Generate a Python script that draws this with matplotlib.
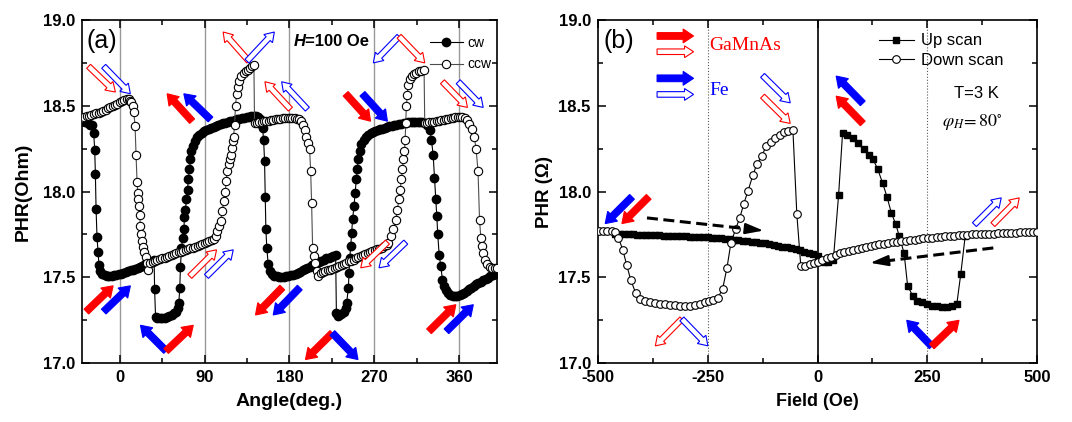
import matplotlib
matplotlib.use("Agg")
import matplotlib.pyplot as plt
import numpy as np
from matplotlib.patches import FancyArrowPatch
from matplotlib.ticker import MultipleLocator

plt.rcParams['font.family'] = ['Liberation Sans', 'DejaVu Sans']
plt.rcParams['mathtext.fontset'] = 'stix'

RED = '#ff0000'
BLUE = '#0000ff'

# ---- panel (a): PHR vs angle, H = 100 Oe ----
cw = np.array([
    (-39, 18.41), (-36.5, 18.405), (-34, 18.40), (-31.5, 18.39), (-29.4, 18.385), (-27.6, 18.34),
    (-26.5, 18.24), (-25.8, 18.10), (-25.1, 17.90), (-24.1, 17.735), (-23, 17.65), (-22, 17.57),
    (-20.5, 17.535), (-18.5, 17.52), (-16, 17.515), (-13.5, 17.51), (-11, 17.51), (-8.5, 17.51),
    (-6, 17.512), (-3.5, 17.515), (-1, 17.518), (1.5, 17.52), (4, 17.525), (6.5, 17.53), (9, 17.535),
    (11.5, 17.54), (14, 17.545), (16.5, 17.55), (19, 17.555), (21.5, 17.56), (24, 17.567),
    (26.5, 17.575), (29, 17.58), (31.5, 17.585), (34, 17.59), (36.5, 17.60), (37, 17.43), (38, 17.27),
    (40, 17.265), (42.5, 17.26), (45, 17.262), (47.5, 17.265), (50, 17.27), (52.5, 17.275),
    (55, 17.28), (57.5, 17.29), (60, 17.30), (61.5, 17.32), (62.7, 17.35), (63.7, 17.44),
    (64.4, 17.56), (65.5, 17.67), (66.9, 17.73), (68, 17.78), (68.7, 17.85), (69.7, 17.895),
    (70.8, 17.955), (71.9, 18.01), (72.9, 18.07), (74, 18.13), (75, 18.19), (76.1, 18.235),
    (77.5, 18.265), (79.6, 18.295), (82, 18.315), (84.5, 18.33), (87, 18.342), (89.5, 18.35),
    (92, 18.357), (94.5, 18.365), (97, 18.37), (99.5, 18.377), (102, 18.383), (104.5, 18.388),
    (107, 18.393), (109.5, 18.398), (112, 18.402), (114.5, 18.406), (117, 18.41), (119.5, 18.414),
    (122, 18.418), (124.5, 18.42), (127, 18.425), (129.5, 18.428), (132, 18.43), (134.5, 18.434),
    (137, 18.436), (139.5, 18.438), (142, 18.44), (144.5, 18.438), (147, 18.435), (149, 18.42),
    (150.5, 18.39), (151.5, 18.37), (152.6, 18.30), (153.6, 18.18), (154.3, 17.97), (155, 17.78),
    (156, 17.67), (157.5, 17.575), (159.3, 17.535), (161.5, 17.52), (164, 17.51), (166.5, 17.505),
    (169, 17.50), (171.5, 17.50), (174, 17.502), (176.5, 17.505), (179, 17.508), (181.5, 17.512),
    (184, 17.515), (186.5, 17.52), (189, 17.527), (191.5, 17.533), (194, 17.54), (196.5, 17.547),
    (199, 17.555), (201.5, 17.562), (204, 17.57), (206.5, 17.577), (209, 17.585), (211.5, 17.59),
    (214, 17.597), (216.5, 17.603), (219, 17.61), (221.5, 17.615), (224, 17.62), (226.5, 17.625),
    (229, 17.63), (229.8, 17.29), (231, 17.275), (233, 17.277), (235, 17.283), (237.5, 17.30),
    (239.5, 17.32), (240.7, 17.35), (242.5, 17.44), (243.2, 17.525), (243.9, 17.61), (245, 17.68),
    (246, 17.76), (247, 17.84), (248.5, 17.915), (249.6, 17.99), (251, 18.07), (252, 18.13),
    (253, 18.19), (254.5, 18.235), (256.3, 18.275), (259, 18.30), (261, 18.32), (263.5, 18.332),
    (266, 18.34), (268.5, 18.347), (271, 18.353), (273.5, 18.358), (276, 18.362), (278.5, 18.367),
    (281, 18.372), (283.5, 18.376), (286, 18.38), (288.5, 18.383), (291, 18.386), (293.5, 18.39),
    (296, 18.393), (298.5, 18.396), (301, 18.40), (303.5, 18.401), (306, 18.403), (308.5, 18.404),
    (311, 18.405), (313.5, 18.405), (316, 18.406), (318.5, 18.405), (321, 18.405), (323.5, 18.40),
    (326.4, 18.39), (328.8, 18.36), (330.6, 18.30), (332.4, 18.215), (333.8, 18.08), (335.2, 17.955),
    (336.3, 17.855), (337.3, 17.75), (338.8, 17.63), (340.5, 17.565), (342.3, 17.485), (344, 17.45),
    (346, 17.425), (348, 17.41), (350.5, 17.398), (353, 17.39), (355.5, 17.388), (358, 17.39),
    (360.5, 17.395), (363, 17.40), (365.5, 17.41), (368, 17.42), (370.5, 17.43), (373, 17.44),
    (375.5, 17.45), (378, 17.458), (380.5, 17.466), (383, 17.474), (385.5, 17.482), (388, 17.49),
    (390.5, 17.497), (393, 17.505), (395.5, 17.513), (398, 17.52), (400, 17.525),
])
ccw = np.array([
    (-40, 18.43), (-37.5, 18.435), (-35, 18.438), (-32.5, 18.442), (-30, 18.447), (-27.5, 18.452),
    (-25, 18.456), (-22.5, 18.46), (-20, 18.466), (-17.5, 18.472), (-15, 18.478), (-12.5, 18.484),
    (-10, 18.49), (-7.5, 18.497), (-5, 18.505), (-2.5, 18.513), (0, 18.52), (2.5, 18.527),
    (5, 18.533), (7.5, 18.538), (9.6, 18.54), (11, 18.53), (12, 18.52), (13.8, 18.50), (14.9, 18.465),
    (16.3, 18.38), (17.3, 18.215), (18.4, 18.055), (19.1, 17.99), (19.8, 17.955), (20.5, 17.915),
    (21.2, 17.865), (21.9, 17.80), (23, 17.75), (24, 17.71), (25.1, 17.675), (26.2, 17.65),
    (27.6, 17.62), (29, 17.585), (30.4, 17.545), (32.6, 17.585), (35, 17.59), (37.5, 17.595),
    (40, 17.60), (42.5, 17.605), (45, 17.61), (47.5, 17.615), (50, 17.62), (52.5, 17.625),
    (55, 17.63), (57.5, 17.635), (60, 17.64), (62.5, 17.645), (65, 17.65), (67.5, 17.655),
    (70, 17.66), (72.5, 17.665), (75, 17.668), (77.5, 17.673), (80, 17.678), (82.5, 17.683),
    (85, 17.688), (87.5, 17.694), (90, 17.70), (92.5, 17.705), (95, 17.71), (97.5, 17.717),
    (100, 17.725), (102, 17.74), (103.4, 17.77), (105, 17.80), (107, 17.83), (108.7, 17.885),
    (110.4, 17.945), (111.9, 18.0), (113, 18.06), (114, 18.12), (115.4, 18.16), (116.5, 18.19),
    (117.5, 18.215), (118.6, 18.255), (120, 18.295), (120.7, 18.32), (121.8, 18.385), (122.8, 18.50),
    (123.9, 18.57), (125, 18.61), (126.4, 18.645), (128.8, 18.675), (131.7, 18.69), (134, 18.70),
    (136, 18.71), (138.5, 18.72), (140.5, 18.73), (142.3, 18.74), (143, 18.40), (145.5, 18.402),
    (148, 18.404), (150.5, 18.407), (153, 18.41), (155.5, 18.412), (158, 18.414), (160.5, 18.416),
    (163, 18.418), (165.5, 18.42), (168, 18.423), (170.5, 18.425), (173, 18.427), (175.5, 18.428),
    (178, 18.43), (180.5, 18.43), (183, 18.43), (185.5, 18.428), (188, 18.425), (190.5, 18.42),
    (192.5, 18.41), (194.3, 18.39), (196, 18.36), (198, 18.32), (200, 18.285), (201.4, 18.245),
    (202.5, 18.12), (203.5, 17.935), (204.6, 17.67), (206, 17.625), (207.4, 17.585), (208.8, 17.535),
    (210.6, 17.505), (213, 17.525), (215.5, 17.53), (218, 17.535), (220.5, 17.54), (223, 17.545),
    (225.5, 17.55), (228, 17.556), (230.5, 17.562), (233, 17.568), (235.5, 17.574), (238, 17.58),
    (240.5, 17.586), (243, 17.592), (245.5, 17.597), (248, 17.603), (250.5, 17.61), (253, 17.616),
    (255.5, 17.622), (258, 17.628), (260.5, 17.635), (263, 17.641), (265.5, 17.647), (268, 17.652),
    (270.5, 17.657), (273, 17.662), (275.5, 17.667), (278, 17.672), (280.5, 17.68), (283, 17.69),
    (285, 17.70), (287.4, 17.74), (290, 17.78), (292.7, 17.835), (294.5, 17.895), (296, 17.955),
    (297.3, 18.01), (298.8, 18.07), (299.8, 18.13), (300.9, 18.19), (302, 18.235), (302.7, 18.30),
    (303.4, 18.40), (304, 18.50), (305, 18.565), (305.8, 18.62), (308, 18.655), (310, 18.672),
    (312, 18.685), (314.5, 18.693), (317.5, 18.70), (320, 18.705), (322.8, 18.71), (323.5, 18.40),
    (326, 18.402), (328.5, 18.404), (331, 18.406), (333.5, 18.408), (336, 18.41), (338.5, 18.413),
    (341, 18.416), (343.5, 18.419), (346, 18.422), (348.5, 18.425), (351, 18.428), (353.5, 18.43),
    (356, 18.432), (358.5, 18.434), (361, 18.435), (363.5, 18.433), (366, 18.428), (368, 18.415),
    (370.6, 18.395), (373.5, 18.365), (376, 18.32), (378, 18.245), (380, 18.12), (381.6, 17.835),
    (383, 17.73), (384.4, 17.68), (385.8, 17.64), (387.6, 17.60), (390, 17.575), (392.5, 17.56),
    (395, 17.555), (397.5, 17.553), (400, 17.555),
])
cw_angle, cw_phr = cw[:, 0], cw[:, 1]
ccw_angle, ccw_phr = ccw[:, 0], ccw[:, 1]

# ---- panel (b): PHR vs field, phi_H = 80 deg ----
up = np.array([
    (-460, 17.755), (-450, 17.755), (-440, 17.753), (-430, 17.752), (-420, 17.75), (-410, 17.749),
    (-400, 17.748), (-390, 17.747), (-380, 17.746), (-370, 17.745), (-360, 17.744), (-350, 17.743),
    (-340, 17.742), (-330, 17.741), (-320, 17.74), (-310, 17.739), (-300, 17.738), (-290, 17.737),
    (-280, 17.736), (-270, 17.735), (-260, 17.734), (-250, 17.733), (-240, 17.731), (-230, 17.729),
    (-220, 17.727), (-210, 17.724), (-200, 17.721), (-190, 17.718), (-180, 17.715), (-170, 17.712),
    (-160, 17.709), (-150, 17.706), (-140, 17.703), (-130, 17.70), (-120, 17.697), (-110, 17.693),
    (-100, 17.689), (-90, 17.684), (-80, 17.679), (-70, 17.674), (-60, 17.668), (-50, 17.662),
    (-40, 17.656), (-30, 17.649), (-20, 17.642), (-10, 17.634), (0, 17.625), (14, 17.59),
    (25, 17.59), (36, 17.60), (48, 17.98), (57, 18.34), (68, 18.33), (80, 18.31), (93, 18.28),
    (106, 18.25), (118, 18.21), (126, 18.19), (137, 18.13), (148, 18.05), (158, 17.97),
    (168, 17.875), (178, 17.81), (186, 17.74), (197, 17.64), (205, 17.45), (217, 17.39),
    (227, 17.36), (237, 17.355), (249, 17.345), (260, 17.335), (271, 17.33), (283, 17.325),
    (294, 17.325), (305, 17.33), (317, 17.345), (326, 17.52), (336, 17.74),
])
down = np.array([
    (-498, 17.77), (-488, 17.77), (-478, 17.77), (-468, 17.77), (-460, 17.765), (-453, 17.73),
    (-443, 17.66), (-434, 17.57), (-425, 17.485), (-414, 17.41), (-403, 17.375), (-392, 17.36),
    (-380, 17.355), (-369, 17.35), (-358, 17.345), (-346, 17.345), (-335, 17.34), (-324, 17.34),
    (-312, 17.335), (-301, 17.335), (-290, 17.335), (-278, 17.34), (-267, 17.345), (-256, 17.355),
    (-247, 17.36), (-238, 17.37), (-227, 17.38), (-216, 17.43), (-206, 17.555), (-197, 17.70),
    (-186.5, 17.78), (-177, 17.845), (-167.5, 17.93), (-158, 18.005), (-147, 18.095), (-138, 18.16),
    (-127, 18.205), (-117, 18.265), (-106, 18.29), (-96, 18.31), (-86, 18.33), (-77, 18.345),
    (-68, 18.355), (-56, 18.36), (-47, 17.866), (-38, 17.565), (-28, 17.565), (-18, 17.575),
    (-9, 17.585), (0, 17.59), (10, 17.60), (21, 17.61), (31, 17.62), (41, 17.63), (51, 17.64),
    (61, 17.648), (71, 17.655), (81, 17.66), (91, 17.666), (101, 17.672), (111, 17.677),
    (121, 17.682), (131, 17.687), (141, 17.692), (151, 17.696), (161, 17.70), (171, 17.704),
    (181, 17.707), (191, 17.71), (201, 17.713), (211, 17.716), (221, 17.72), (231, 17.723),
    (241, 17.726), (251, 17.729), (261, 17.731), (271, 17.734), (281, 17.736), (291, 17.738),
    (301, 17.74), (311, 17.742), (321, 17.744), (331, 17.746), (341, 17.748), (351, 17.75),
    (361, 17.751), (371, 17.752), (381, 17.753), (391, 17.754), (401, 17.755), (411, 17.756),
    (421, 17.757), (431, 17.758), (441, 17.759), (451, 17.76), (461, 17.761), (471, 17.762),
    (481, 17.763), (491, 17.764), (500, 17.765),
])
up_field, up_phr = up[:, 0], up[:, 1]
down_field, down_phr = down[:, 0], down[:, 1]

angle_ticks = [0, 90, 180, 270, 360]
field_ticks = [-500, -250, 0, 250, 500]
phr_ticks = [17.0, 17.5, 18.0, 18.5, 19.0]

# magnetisation sketch arrows: (tail, head, colour, filled)
arrows_a = [
    ((-33, 18.73), (-4.6, 18.58), RED, False), ((-17, 18.73), (11.3, 18.57), BLUE, False),
    ((76.8, 18.41), (50.3, 18.57), RED, True), ((96.3, 18.42), (68, 18.57), BLUE, True),
    ((137, 18.76), (109.7, 18.93), RED, False), ((135, 18.76), (164, 18.93), BLUE, False),
    ((181, 18.48), (154, 18.64), RED, False), ((199, 18.48), (171.7, 18.64), BLUE, False),
    ((239.6, 18.57), (266, 18.41), RED, True), ((257.4, 18.57), (283.9, 18.41), BLUE, True),
    ((296.3, 18.905), (269, 18.75), BLUE, False), ((296.3, 18.905), (323.5, 18.75), RED, False),
    ((342.3, 18.64), (368.8, 18.49), RED, False), ((359, 18.64), (385.5, 18.49), BLUE, False),
    ((-35.4, 17.30), (-7, 17.45), RED, True), ((-17, 17.30), (11.3, 17.45), BLUE, True),
    ((74.3, 17.505), (102.7, 17.66), RED, False), ((92, 17.505), (120.4, 17.66), BLUE, False),
    ((49.2, 17.07), (22, 17.22), BLUE, True), ((49.2, 17.07), (78, 17.22), RED, True),
    ((172.4, 17.44), (144, 17.28), RED, True), ((191, 17.44), (162.8, 17.28), BLUE, True),
    ((225.5, 17.175), (197, 17.02), RED, True), ((225.5, 17.175), (252.7, 17.02), BLUE, True),
    ((284, 17.705), (255.6, 17.555), RED, False), ((303.4, 17.705), (275, 17.555), BLUE, False),
    ((328, 17.185), (356.5, 17.34), RED, True), ((346.5, 17.185), (375, 17.34), BLUE, True),
]
arrows_b = [
    ((-365, 18.907), (-282, 18.907), RED, True), ((-365, 18.815), (-282, 18.815), RED, False),
    ((-365, 18.66), (-282, 18.66), BLUE, True), ((-365, 18.566), (-282, 18.566), BLUE, False),
    ((-125, 18.677), (-62, 18.517), BLUE, False), ((-125, 18.556), (-62, 18.397), RED, False),
    ((103, 18.514), (42.5, 18.673), BLUE, True), ((103, 18.397), (42.5, 18.556), RED, True),
    ((-422, 17.969), (-483, 17.813), BLUE, True), ((-384, 17.969), (-445, 17.813), RED, True),
    ((357, 17.807), (418, 17.963), BLUE, False), ((399, 17.807), (459, 17.963), RED, False),
    ((-308.6, 17.257), (-369, 17.10), RED, False), ((-308.6, 17.257), (-249.4, 17.10), BLUE, False),
    ((260, 17.097), (203, 17.249), BLUE, True), ((260, 17.097), (322, 17.249), RED, True),
]


def block_arrow(ax, tail, head, color, filled):
    if filled:
        style = "simple,tail_width=4.8,head_width=10,head_length=7.5"
    else:
        style = "simple,tail_width=4.0,head_width=8.5,head_length=6.5"
    arr = FancyArrowPatch(tail, head, arrowstyle=style, mutation_scale=1,
                          shrinkA=0, shrinkB=0, lw=0.8, joinstyle='miter',
                          facecolor=color if filled else 'white', edgecolor=color, zorder=6)
    ax.add_patch(arr)


def dashed_arrow(ax, tail, head):
    tail = np.array(tail)
    head = np.array(head)
    mid = head - 0.13 * (head - tail)
    ax.plot([tail[0], mid[0]], [tail[1], mid[1]], color='black', lw=2.2,
            dashes=(3.6, 1.8), solid_capstyle='butt', zorder=6)
    ax.annotate('', xy=head, xytext=mid,
                arrowprops=dict(arrowstyle='-|>,head_length=1.1,head_width=0.33',
                                lw=1.5, color='black', mutation_scale=10,
                                shrinkA=0, shrinkB=0), zorder=6)


def style_axes(ax, xticks, xfmt):
    ax.set_ylim(17.0, 19.0)
    ax.set_xticks(xticks, [xfmt.format(v) for v in xticks], fontweight='bold')
    ax.set_yticks(phr_ticks, [f'{v:.1f}' for v in phr_ticks], fontweight='bold')
    ax.yaxis.set_minor_locator(MultipleLocator(0.25))
    ax.tick_params(which='both', direction='in', top=True, right=True, width=1.1, labelsize=12)
    ax.tick_params(which='major', length=6, pad=5)
    ax.tick_params(which='minor', length=3.5)
    for sp in ax.spines.values():
        sp.set_linewidth(1.2)


fig = plt.figure(figsize=(10.72, 4.22), dpi=100)

# panel (a)
ax1 = fig.add_axes([0.0765, 0.1398, 0.387, 0.8128])
for x in angle_ticks:
    ax1.axvline(x, color='0.6', lw=1.0, zorder=0)
ax1.plot(cw_angle, cw_phr, '-o', color='black', lw=0.8, ms=6, mfc='black', mec='black',
         label='cw', zorder=3)
ax1.plot(ccw_angle, ccw_phr, '-o', color='0.3', lw=0.8, ms=6, mfc='white', mec='black',
         mew=0.8, label='ccw', zorder=4)
ax1.set_xlim(-40, 400)
style_axes(ax1, angle_ticks, '{:d}')
ax1.xaxis.set_minor_locator(MultipleLocator(45))
ax1.set_xlabel('Angle(deg.)', fontsize=14, fontweight='bold', labelpad=6)
ax1.set_ylabel('PHR(Ohm)', fontsize=14, fontweight='bold', labelpad=8)
ax1.text(0.012, 0.975, '(a)', transform=ax1.transAxes, fontsize=18, va='top', ha='left')
t = ax1.text(184, 18.877, 'H', fontsize=12, fontweight='bold', style='italic', va='center')
ax1.annotate('=100 Oe', xy=(1, 0), xycoords=t, fontsize=12, fontweight='bold', va='bottom')
ax1.legend(loc='upper right', bbox_to_anchor=(1.0, 0.97), frameon=False,
           prop=dict(size=10), handlelength=2.4, handletextpad=0.3, borderaxespad=0.2,
           borderpad=0.2, labelspacing=0.55)
for tail, head, c, f in arrows_a:
    block_arrow(ax1, tail, head, c, f)

# panel (b)
ax2 = fig.add_axes([0.5576, 0.1398, 0.410, 0.8128])
ax2.axvline(0, color='black', lw=1.2, zorder=1)
for x in [-250, 250]:
    ax2.axvline(x, color='0.35', lw=0.8, ls=':', zorder=0)
ax2.plot(up_field, up_phr, '-s', color='black', lw=0.8, ms=5, mfc='black', mec='black',
         label='Up scan', zorder=3)
ax2.plot(down_field, down_phr, '-o', color='black', lw=0.8, ms=5.5, mfc='white', mec='black',
         mew=0.8, label='Down scan', zorder=4)
ax2.set_xlim(-500, 500)
style_axes(ax2, field_ticks, '{:d}')
ax2.xaxis.set_minor_locator(MultipleLocator(125))
ax2.set_xlabel('Field (Oe)', fontsize=13, fontweight='bold', labelpad=6)
ax2.set_ylabel('PHR (\u03a9)', fontsize=13.5, fontweight='bold', labelpad=4)
ax2.text(0.012, 0.975, '(b)', transform=ax2.transAxes, fontsize=18, va='top', ha='left')
ax2.text(-247, 18.854, 'GaMnAs', color=RED, fontsize=14,
         family=['Liberation Serif', 'DejaVu Serif'], va='center', ha='left')
ax2.text(-247, 18.59, 'Fe', color=BLUE, fontsize=14,
         family=['Liberation Serif', 'DejaVu Serif'], va='center', ha='left')
ax2.text(361, 18.574, 'T=3 K', fontsize=12, va='center', ha='center')
ax2.text(284, 18.405, r'$\varphi_H\!=80^{\circ}$', fontsize=13, va='center', ha='left')
ax2.legend(loc='upper right', bbox_to_anchor=(0.945, 0.99), frameon=False,
           prop=dict(size=12), handlelength=2.1, handletextpad=0.4,
           borderaxespad=0.3, borderpad=0.3, labelspacing=0.25)
for tail, head, c, f in arrows_b:
    block_arrow(ax2, tail, head, c, f)
dashed_arrow(ax2, (-388, 17.846), (-123, 17.772))
dashed_arrow(ax2, (400, 17.671), (120, 17.584))

fig.savefig('out.png', dpi=100)
